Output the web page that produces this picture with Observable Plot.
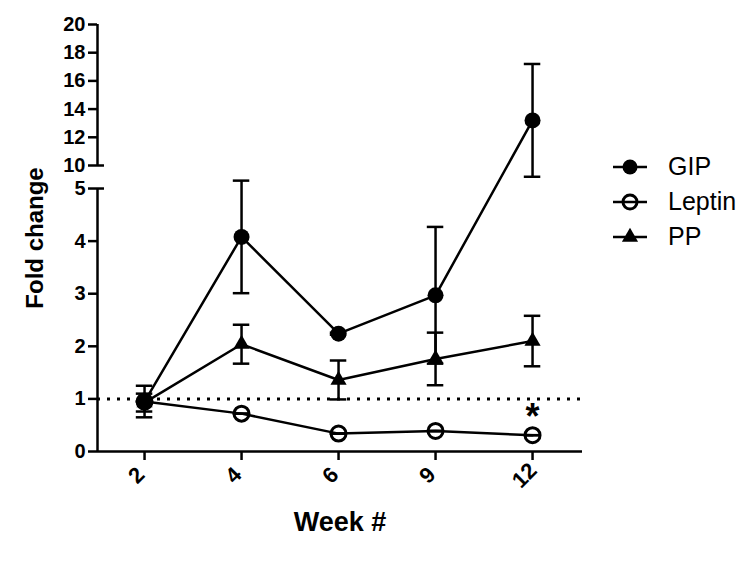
<!DOCTYPE html>
<html><head><meta charset="utf-8">
<script src="https://cdn.jsdelivr.net/npm/d3@7"></script>
<script src="https://cdn.jsdelivr.net/npm/@observablehq/plot@0.6"></script>
<style>
body{margin:0;background:#fff;}
#wrap{position:relative;width:744px;height:572px;font-family:"Liberation Sans",Arial,sans-serif;}
#legend{position:absolute;left:612px;top:149px;}
.row{display:flex;align-items:center;height:35px;font-size:25px;color:#000;}
.row svg{margin-right:20px;}
</style></head><body><div id="wrap"></div>
<script>
// ---- data ----
const weeks = ["2", "4", "6", "9", "12"];
const seriesNames = ["GIP", "Leptin", "PP"];
const gip = [0.95, 4.08, 2.24, 2.97, 13.2];
const gipErr = [0.3, 1.07, 0.02, 1.3, 4.0];
const leptin = [0.95, 0.72, 0.34, 0.39, 0.31];
const leptinErr = [0.0, 0.0, 0.0, 0.0, 0.0];
const pp = [0.93, 2.04, 1.36, 1.76, 2.1];
const ppErr = [0.17, 0.37, 0.37, 0.5, 0.48];
const yTicks = [0, 1, 2, 3, 4, 5, 10, 12, 14, 16, 18, 20];
const lowerSegment = [0, 5];
const upperSegment = [10, 20];
const referenceLevel = 1;
const significance = [{series: "Leptin", week: "12", mark: "*"}];
const xLabel = "Week #";
const yLabel = "Fold change";

// ---- build table ----
const valuesBy = {GIP: gip, Leptin: leptin, PP: pp};
const errBy = {GIP: gipErr, Leptin: leptinErr, PP: ppErr};
const rows = [];
for (const s of seriesNames) weeks.forEach((w, i) => rows.push({series: s, week: w, i, value: valuesBy[s][i], err: errBy[s][i]}));
const idx = weeks.map((_, i) => i);
const sigRows = significance.map(d => {const i = weeks.indexOf(d.week); return {...d, i, value: valuesBy[d.series][i]};});

// broken (piecewise) y scale
const xDomain = [-0.485, 4.515];
const capHalf = 0.085;
const yDomain = [0, 5.2, 9.113, 20];
const yRange = [451, 177.5, 177.5, 24];

const chart = Plot.plot({
  width: 744, height: 572,
  marginLeft: 97, marginRight: 162, marginTop: 24, marginBottom: 121,
  style: {fontFamily: "Liberation Sans, Arial, sans-serif", fontSize: "20px", fontWeight: "bold", color: "black", background: "white"},
  x: {type: "linear", domain: xDomain},
  y: {type: "linear", domain: yDomain, range: yRange},
  marks: [
    Plot.ruleY([referenceLevel], {stroke: "black", strokeWidth: 3, strokeDasharray: "3 7"}),
    // broken y axis line
    Plot.ruleX([lowerSegment, upperSegment], {x: xDomain[0], y1: d => d[0], y2: d => d[1], strokeWidth: 2.5}),
    Plot.ruleY([lowerSegment[1], upperSegment[0]], {x1: xDomain[0], x2: xDomain[0] + 0.072, strokeWidth: 2.5}),
    Plot.axisY({ticks: yTicks, tickSize: 9, tickPadding: 3, strokeWidth: 2.5, fontSize: 20, fontWeight: "bold", label: null}),
    // x axis
    Plot.ruleY([0], {strokeWidth: 2.5}),
    Plot.axisX({ticks: idx, tickSize: 9, strokeWidth: 2.5, tickFormat: () => "", label: null}),
    Plot.text(idx, {x: d => d, text: d => weeks[d], frameAnchor: "bottom", dy: 29, dx: -3, rotate: -45, fontSize: 22, fontWeight: "bold"}),
    Plot.text([xLabel], {frameAnchor: "bottom", textAnchor: "middle", lineAnchor: "middle", dy: 71, fontSize: 27, fontWeight: "bold"}),
    Plot.text([yLabel], {frameAnchor: "left", textAnchor: "middle", lineAnchor: "middle", dx: -62, rotate: -90, fontSize: 24, fontWeight: "bold"}),
    // lines
    Plot.line(rows, {x: "i", y: "value", z: "series", stroke: "black", strokeWidth: 2.5}),
    // error bars
    Plot.ruleX(rows, {x: "i", y1: d => d.value - d.err, y2: d => d.value + d.err, strokeWidth: 2.5}),
    Plot.ruleY(rows, {y: d => d.value + d.err, x1: d => d.i - capHalf, x2: d => d.i + capHalf, strokeWidth: 2.5}),
    Plot.ruleY(rows, {y: d => d.value - d.err, x1: d => d.i - capHalf, x2: d => d.i + capHalf, strokeWidth: 2.5}),
    // markers
    Plot.dot(rows.filter(d => d.series === "PP"), {x: "i", y: "value", symbol: "triangle", r: 6, fill: "black"}),
    Plot.dot(rows.filter(d => d.series === "Leptin"), {x: "i", y: "value", r: 7.5, fill: "none", stroke: "black", strokeWidth: 3}),
    Plot.dot(rows.filter(d => d.series === "GIP"), {x: "i", y: "value", r: 8, fill: "black"}),
    Plot.text(sigRows, {x: "i", y: "value", text: "mark", dy: -18, fontSize: 36, fontWeight: "bold"})
  ]
});

const wrap = document.getElementById("wrap");
wrap.appendChild(chart);

// legend
const legend = document.createElement("div");
legend.id = "legend";
const symbolDraw = {
  GIP: g => g.append("circle").attr("cx", 18).attr("cy", 12).attr("r", 7.5).attr("fill", "black"),
  Leptin: g => g.append("circle").attr("cx", 18).attr("cy", 12).attr("r", 7).attr("fill", "none").attr("stroke", "black").attr("stroke-width", 3),
  PP: g => g.append("path").attr("d", d3.symbol(d3.symbolTriangle, Math.PI * 36)()).attr("transform", "translate(18,12)").attr("fill", "black")
};
for (const s of seriesNames) {
  const row = document.createElement("div");
  row.className = "row";
  const svg = d3.create("svg").attr("width", 36).attr("height", 24);
  svg.append("line").attr("x1", 1).attr("x2", 35).attr("y1", 12).attr("y2", 12).attr("stroke", "black").attr("stroke-width", 2.5);
  symbolDraw[s](svg);
  row.appendChild(svg.node());
  const t = document.createElement("span");
  t.textContent = s;
  row.appendChild(t);
  legend.appendChild(row);
}
wrap.appendChild(legend);
</script>
</body></html>
